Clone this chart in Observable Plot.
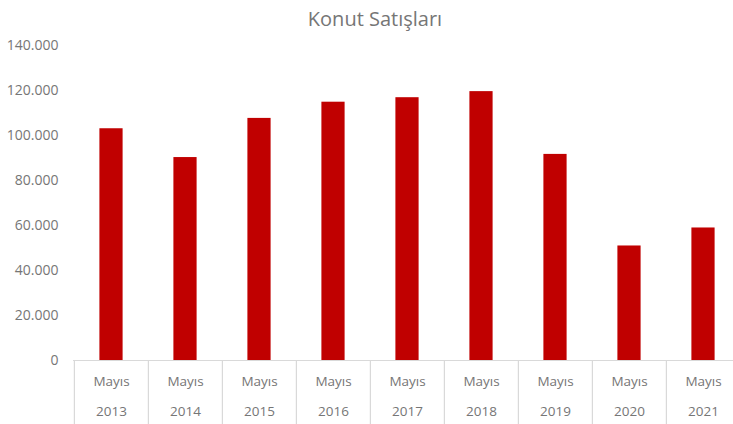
<!DOCTYPE html>
<html>
<head>
<meta charset="utf-8">
<script src="https://cdn.jsdelivr.net/npm/d3@7"></script>
<script src="https://cdn.jsdelivr.net/npm/@observablehq/plot@0.6"></script>
<style>
  html, body { margin: 0; padding: 0; background: #fff; }
  #wrap { position: relative; width: 733px; height: 424px; overflow: hidden; }
  #chart svg { max-width: none !important; }
  #title { position: absolute; top: 0; left: 0; width: 750px; text-align: center;
           font-family: "Open Sans", sans-serif; font-size: 20px; color: #767676;
           line-height: 20px; padding-top: 9px; }
</style>
</head>
<body>
<div id="wrap"><div id="chart"></div><div id="title">Konut Satışları</div></div>
<script>
const years = ["2013", "2014", "2015", "2016", "2017", "2018", "2019", "2020", "2021"];
const month = "Mayıs";
const sales = [103000, 90200, 107600, 114800, 116800, 119500, 91600, 50900, 58900];
const yTicks = [0, 20000, 40000, 60000, 80000, 100000, 120000, 140000];

const data = years.map((y, i) => ({year: y, value: sales[i]}));
const tr = d3.formatLocale({decimal: ",", thousands: ".", grouping: [3], currency: ["", "₺"]});
const fmt = tr.format(",");

const W = 741, ML = 73, MR = 0;
const bw = (W - ML - MR) / years.length;
const gray = "#d9d9d9";
const txt = "#767676";

const chart = Plot.plot({
  width: W,
  height: 424,
  marginLeft: ML,
  marginRight: MR,
  marginTop: 45,
  marginBottom: 64,
  style: {fontFamily: "Open Sans, sans-serif", fontSize: "14px", background: "#fff", maxWidth: "none"},
  x: {domain: years, padding: 0, axis: null, label: null},
  y: {domain: [0, 140000], axis: null, label: null},
  marks: [
    Plot.barY(data, {x: "year", y: "value", fill: "#C00000", insetLeft: 25.4, insetRight: 25.4}),
    Plot.ruleY([0], {stroke: gray, strokeWidth: 1.2}),
    Plot.axisX({anchor: "bottom", label: null, tickSize: 64, tickFormat: () => "", dx: -bw / 2, stroke: gray, strokeWidth: 1.2}),
    Plot.axisX({anchor: "bottom", label: null, tickSize: 0, tickPadding: 21, lineAnchor: "middle", tickFormat: () => month, fill: txt, fontSize: 13.5}),
    Plot.axisX({anchor: "bottom", label: null, tickSize: 0, tickPadding: 51, lineAnchor: "middle", tickFormat: d => d, fill: txt, fontSize: 13.5}),
    Plot.axisY({ticks: yTicks, label: null, tickSize: 0, tickPadding: 15, tickFormat: fmt, fill: txt, fontSize: 14})
  ]
});
document.getElementById("chart").appendChild(chart);
</script>
</body>
</html>
